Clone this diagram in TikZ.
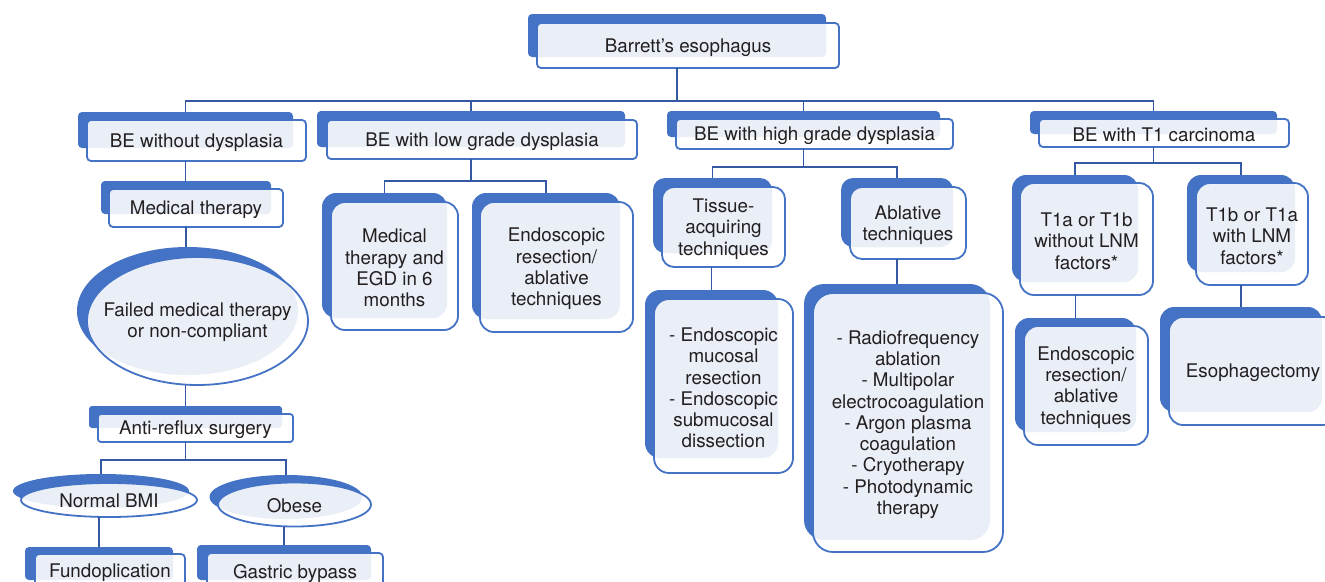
\documentclass[tikz,border=0pt]{standalone}
\usepackage{fontspec}
\setmainfont{TeX Gyre Heros}
\usetikzlibrary{fit,calc,shapes.geometric}
\definecolor{bblue}{HTML}{4472C4}
\definecolor{cblue}{HTML}{3558A2}
\definecolor{lfill}{HTML}{E9EEF7}
\definecolor{tcol}{HTML}{231F20}
\tikzset{
  txt/.style={text=tcol, align=center, font=\fontsize{18.8}{21.3}\selectfont},
  conn/.style={draw=cblue, line width=1.7pt},
  frontbox/.style={draw=bblue, line width=1.8pt, inner sep=0pt, outer sep=0pt},
  backbox/.style={fill=bblue, inner sep=0pt, outer sep=0pt}
}
% name, back c1, back c2, front c1, front c2, radius, text
\newcommand\cbox[7]{%
  \node[backbox, fit={#2 #3}, rounded corners=#6] (#1B) {};
  \fill[white, rounded corners=#6] #4 rectangle #5;
  \begin{scope}
    \clip[rounded corners=#6] #4 rectangle #5;
    \fill[lfill, rounded corners=#6] #2 rectangle #3;
  \end{scope}
  \node[frontbox, fit={#4 #5}, rounded corners=#6] (#1) {};
  \node[txt, yshift=-2pt] (#1T) at (#1.center) {#7};
}
% name, back centre, front centre, rx, ry, text
\newcommand\cell[6]{%
  \node[backbox, ellipse, minimum width=2*#4pt, minimum height=2*#5pt] (#1B) at #2 {};
  \fill[white] #3 ellipse [x radius=#4pt, y radius=#5pt];
  \begin{scope}
    \clip #3 ellipse [x radius=#4pt, y radius=#5pt];
    \fill[lfill] #2 ellipse [x radius=#4pt, y radius=#5pt];
  \end{scope}
  \node[frontbox, ellipse, minimum width=2*#4pt, minimum height=2*#5pt] (#1) at #3 {};
  \node[txt, yshift=-1pt] (#1T) at #3 {#6};
}
\begin{document}
\begin{tikzpicture}[x=1pt,y=-1pt]
\useasboundingbox (0,0) rectangle (1325,581);
\clip (0,0) rectangle (1325,581);

\cbox{bar}{(528,14)}{(826,57)}{(537,23)}{(839,68)}{4pt}{Barrett’s esophagus}
\cbox{beo}{(78,112)}{(293,148)}{(87,120)}{(306,161)}{4pt}{BE without dysplasia}
\cbox{lgd}{(317,111)}{(625,147)}{(327,120)}{(637,159)}{4pt}{BE with low grade dysplasia}
\cbox{hgd}{(667,111)}{(940,137)}{(676,119)}{(953,149)}{4pt}{BE with high grade dysplasia}
\cbox{t1}{(1030,111)}{(1277,134)}{(1039,119)}{(1289,147)}{4pt}{BE with T1 carcinoma}

\cbox{med}{(101,181)}{(271,214)}{(109,189)}{(283,227)}{4pt}{Medical therapy}
\cell{fail}{(187.5,311)}{(197.5,321)}{110.5}{64}{Failed medical therapy\\or non-compliant}
\cbox{ars}{(89,406)}{(282,428)}{(98,414)}{(293,442)}{3pt}{Anti-reflux surgery}
\cell{nbmi}{(101,491)}{(109,500)}{88}{17}{Normal BMI}
\cell{obe}{(286,497)}{(294.5,504.5)}{76.5}{22}{Obese}
\cbox{fund}{(25,547)}{(173,580)}{(35,554)}{(185,588)}{4pt}{Fundoplication}
\cbox{gas}{(197,545)}{(371,580)}{(207,553)}{(383,591)}{4pt}{Gastric bypass}

\cbox{megd}{(322,193)}{(447,318)}{(331,202)}{(458,330)}{14pt}{Medical\\therapy and\\EGD in 6\\months}
\cbox{erl}{(472,193)}{(620,319)}{(480,202)}{(633,332)}{14pt}{Endoscopic\\resection/\\ablative\\techniques}

\cbox{tis}{(653,178)}{(772,253)}{(662,187)}{(785,267)}{12pt}{Tissue-\\acquiring\\techniques}
\cbox{abl}{(841,178)}{(953,247)}{(850,187)}{(966,259)}{12pt}{Ablative\\techniques}
\cbox{emr}{(645,290)}{(778,458)}{(654,299)}{(793,473)}{15pt}{- Endoscopic\\mucosal\\resection\\- Endoscopic\\submucosal\\dissection}
\cbox{rfa}{(804,284)}{(990,540)}{(813,293)}{(1003,552)}{20pt}{- Radiofrequency\\ablation\\- Multipolar\\electrocoagulation\\- Argon plasma\\coagulation\\- Cryotherapy\\- Photodynamic\\therapy}

\cbox{t1a}{(1012,175)}{(1138,282)}{(1020,183)}{(1153,295)}{14pt}{T1a or T1b\\without LNM\\factors*}
\cbox{t1b}{(1187,175)}{(1295,272)}{(1196,183)}{(1308,285)}{14pt}{T1b or T1a\\with LNM\\factors*}
\cbox{ert}{(1015,318)}{(1136,432)}{(1024,326)}{(1148,445)}{14pt}{Endoscopic\\resection/\\ablative\\techniques}
\cbox{eso}{(1160,307)}{(1322,412)}{(1169,317)}{(1337,425)}{14pt}{Esophagectomy}

% connectors
\coordinate (bus0) at (0,101);
\coordinate (bus1) at (0,181);
\coordinate (bus2) at (0,167);
\coordinate (bus3) at (0,163);
\coordinate (bus4) at (0,460);
\foreach \nm in {beo,lgd,hgd,t1}
  \draw[conn] (barB |- bar.south) |- (\nm B |- bus0) -- (\nm B.north);
\foreach \nm in {megd,erl}
  \draw[conn] (lgdB |- lgd.south) |- (\nm B |- bus1) -- (\nm B.north);
\foreach \nm in {tis,abl}
  \draw[conn] (hgdB |- hgd.south) |- (\nm B |- bus2) -- (\nm B.north);
\foreach \nm in {t1a,t1b}
  \draw[conn] (t1B |- t1.south) |- (\nm B |- bus3) -- (\nm B.north);
\foreach \nm in {nbmi,obe}
  \draw[conn] (arsB |- ars.south) |- (\nm B |- bus4) -- (\nm B.north);
\draw[conn] (beoB |- beo.south) -- (beoB |- medB.north);
\draw[conn] (medB |- med.south) -- (medB |- failB.north);
\draw[conn] (arsB |- fail.south) -- (arsB.north);
\draw[conn] (fundB |- nbmi.south) -- (fundB.north);
\draw[conn] (gasB |- obe.south) -- (gasB.north);
\draw[conn] (emrB |- tis.south) -- (emrB.north);
\draw[conn] (rfaB |- abl.south) -- (rfaB.north);
\draw[conn] (ertB |- t1a.south) -- (ertB.north);
\draw[conn] (esoB |- t1b.south) -- (esoB.north);
\end{tikzpicture}
\end{document}
